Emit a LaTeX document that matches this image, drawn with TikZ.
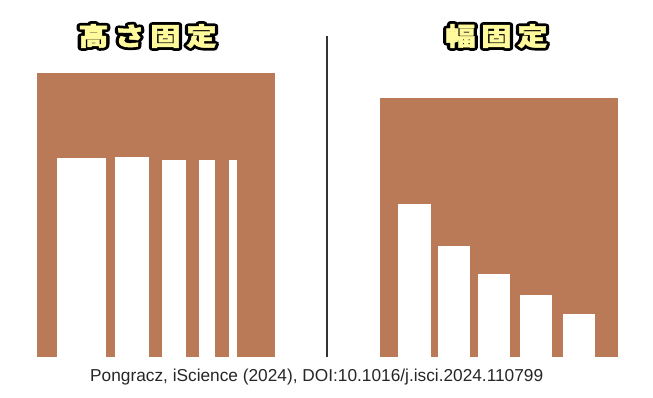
\documentclass[tikz,border=0pt]{standalone}
\usepackage{fontspec}
\setmainfont{Liberation Sans}
\newfontfamily\cjk{Noto Sans CJK JP}[FakeBold=2]
\newfontfamily\cjkoutline{Noto Sans CJK JP}[FakeBold=24]
\definecolor{brownbox}{HTML}{BA7A57}
\definecolor{titleyellow}{HTML}{FFFA9C}
\definecolor{divider}{HTML}{333333}
\tikzset{
  boxfill/.style={fill=brownbox},
  barfill/.style={fill=white},
  titletext/.style={font=\cjk\bfseries\fontsize{25}{25}\selectfont, inner sep=0pt, xscale=1.2, transform shape, text=titleyellow},
  titleoutline/.style={font=\cjkoutline\bfseries\fontsize{25}{25}\selectfont, inner sep=0pt, xscale=1.2, transform shape, text=black},
}
\newcommand\kk{\kern5pt}
\begin{document}
\begin{tikzpicture}[x=1pt,y=-1pt]
\useasboundingbox (0,0) rectangle (653,397);
% left panel
\fill[boxfill] (37.3,72.7) rectangle (275,357);
\fill[barfill] (56.7,158.3) rectangle (106.3,357);
\fill[barfill] (115.3,156.7) rectangle (149.3,357);
\fill[barfill] (162,160) rectangle (186,357);
\fill[barfill] (199.3,160) rectangle (214.7,357);
\fill[barfill] (228.7,160.3) rectangle (237.3,357);
% divider
\coordinate (dtop) at (327.3,36);
\coordinate (dbot) at (327.3,357);
\draw[divider, line width=2pt] (dtop) -- (dbot);
% right panel
\fill[boxfill] (380,98.3) rectangle (618.3,357);
\fill[barfill] (398.3,204) rectangle (431.3,357);
\fill[barfill] (438.3,246.3) rectangle (470.3,357);
\fill[barfill] (478.3,274) rectangle (510,357);
\fill[barfill] (519.7,294.7) rectangle (551.7,357);
\fill[barfill] (563.3,314.3) rectangle (595,357);
% titles
\begin{scope}[line join=round, miter limit=1]
\node[titleoutline] (t1s) at (147.5,36) {高\kk さ\kk 固\kk 定};
\node[titleoutline] (t2s) at (496.5,36) {幅\kk 固\kk 定};
\end{scope}
\node[titletext] (t1) at (147.5,36) {高\kk さ\kk 固\kk 定};
\node[titletext] (t2) at (496.5,36) {幅\kk 固\kk 定};
% footer
\node[anchor=base west, inner sep=0pt, text=black!85] (foot) at (90,381)
  {\resizebox{453pt}{!}{\fontsize{14}{14}\selectfont Pongracz, iScience (2024), DOI:10.1016/j.isci.2024.110799}};
\end{tikzpicture}
\end{document}
